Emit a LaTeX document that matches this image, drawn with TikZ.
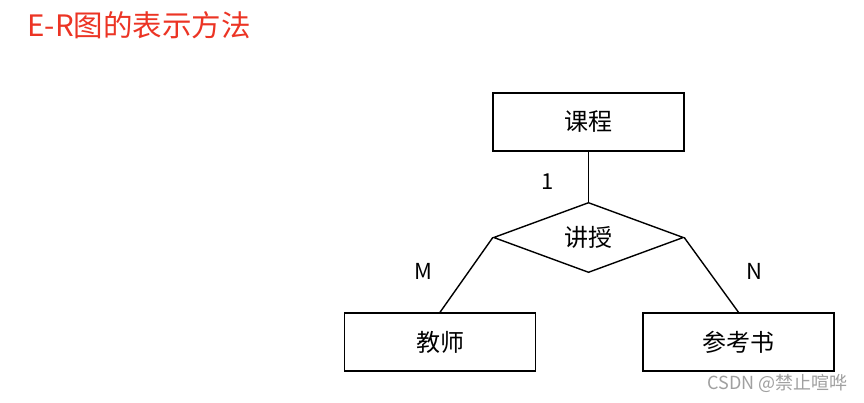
\documentclass[tikz,border=0pt]{standalone}
\usepackage{fontspec}
\setmainfont{Noto Sans CJK SC}
\usepackage{tikz}
\usetikzlibrary{shapes.geometric}
\definecolor{titlered}{RGB}{236,52,36}
\definecolor{markgray}{RGB}{160,160,160}

\begin{document}
\begin{tikzpicture}[
  x=1pt, y=-1pt,
  every node/.style={align=center},
  entity/.style={draw, line width=1.4pt, minimum width=191pt,
                 minimum height=58pt, inner sep=0pt,
                 font=\fontsize{24}{24}\selectfont},
  relation/.style={draw, diamond, line width=1.4pt, minimum width=190pt,
                   minimum height=67pt, inner sep=0pt,
                   font=\fontsize{24}{24}\selectfont},
  card/.style={font=\fontsize{22}{22}\selectfont},
  link/.style={line width=1.4pt}
]
\useasboundingbox[fill=white] (0,0) rectangle (864,402);

%% Title
\node[titlered, anchor=west, font=\fontsize{29.5}{29.5}\selectfont] (title)
      at (24,25) {E-R图的表示方法};

%% Entities and relation
\node[entity]   (course)  at (588.5,122) {课程};
\node[relation] (teach)   at (588.5,237.5) {讲授};
\node[entity]   (teacher) at (440,342) {教师};
\node[entity]   (book)    at (738.5,342) {参考书};

%% Connectors
\draw[link] (course.south) -- (teach.north);
\draw[link] (teach.west)   -- (teacher.north);
\draw[link] (teach.east)   -- (book.north);

%% Cardinalities
\node[card] (one) at (548,182) {1};
\node[card] (m)   at (423,271) {M};
\node[card] (n)   at (754,271) {N};

%% Watermark
\node[markgray, anchor=east, inner sep=0pt, font=\fontsize{18}{18}\selectfont] (mark)
      at (848,383) {CSDN @禁止喧哗};

\end{tikzpicture}
\end{document}
